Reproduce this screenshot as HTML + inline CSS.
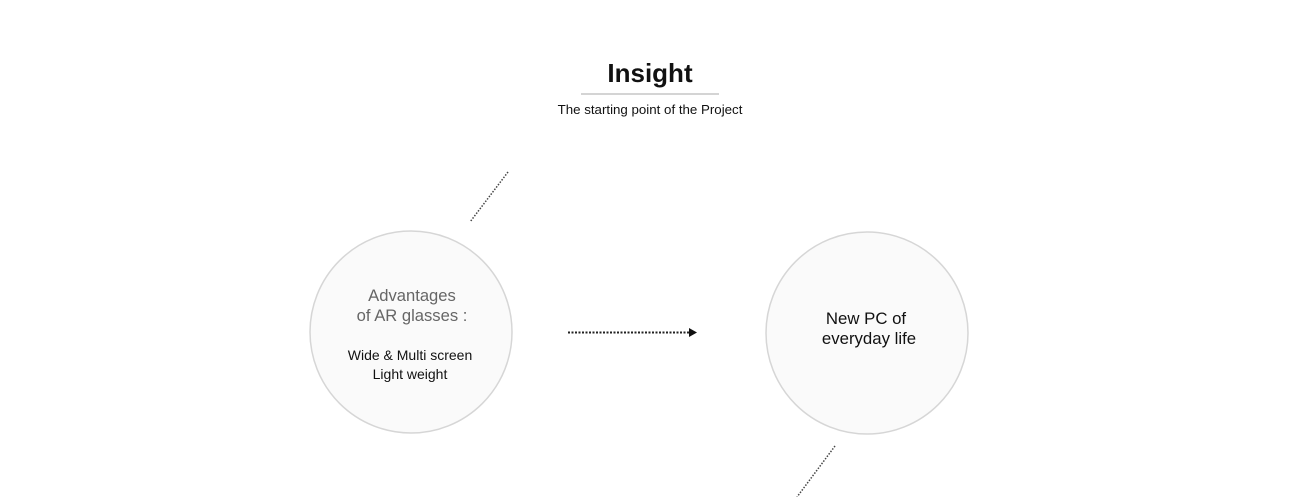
<!DOCTYPE html>
<html><head><style>
body{margin:0;width:1300px;height:497px;background:#fff;overflow:hidden;font-family:"Liberation Sans",sans-serif;}
</style></head><body>
<svg width="1300" height="497" viewBox="0 0 1300 497" style="position:absolute;left:0;top:0">
<text x="650" y="82" text-anchor="middle" font-size="26" font-weight="bold" fill="#111" font-family="Liberation Sans">Insight</text>
<line x1="581" y1="94" x2="719" y2="94" stroke="#aaa" stroke-width="1"/>
<text x="650" y="114" text-anchor="middle" font-size="13.3" fill="#111" font-family="Liberation Sans">The starting point of  the Project</text>
<line x1="508" y1="172" x2="470" y2="222" stroke="#444" stroke-width="1.5" stroke-dasharray="1.5 1.5"/>
<line x1="835" y1="446" x2="797" y2="497" stroke="#444" stroke-width="1.5" stroke-dasharray="1.5 1.5"/>
<circle cx="411" cy="332" r="101" fill="#fafafa" stroke="#d6d6d6" stroke-width="1.5"/>
<circle cx="867" cy="333" r="101" fill="#fafafa" stroke="#d6d6d6" stroke-width="1.5"/>
<text x="412" y="301" text-anchor="middle" font-size="16.6" fill="#666" font-family="Liberation Sans">Advantages</text>
<text x="412" y="321" text-anchor="middle" font-size="16.6" fill="#666" font-family="Liberation Sans">of AR glasses :</text>
<text x="410" y="360" text-anchor="middle" font-size="14" fill="#111" font-family="Liberation Sans">Wide &amp; Multi screen</text>
<text x="410" y="379" text-anchor="middle" font-size="14" fill="#111" font-family="Liberation Sans">Light weight</text>
<text x="866" y="324" text-anchor="middle" font-size="16.8" fill="#111" font-family="Liberation Sans">New PC of</text>
<text x="869" y="344" text-anchor="middle" font-size="16.8" fill="#111" font-family="Liberation Sans">everyday life</text>
<line x1="568" y1="332.5" x2="690" y2="332.5" stroke="#222" stroke-width="2" stroke-dasharray="2 1.5"/>
<polygon points="689,328 697,332.5 689,337" fill="#111"/>
</svg>
</body></html>
